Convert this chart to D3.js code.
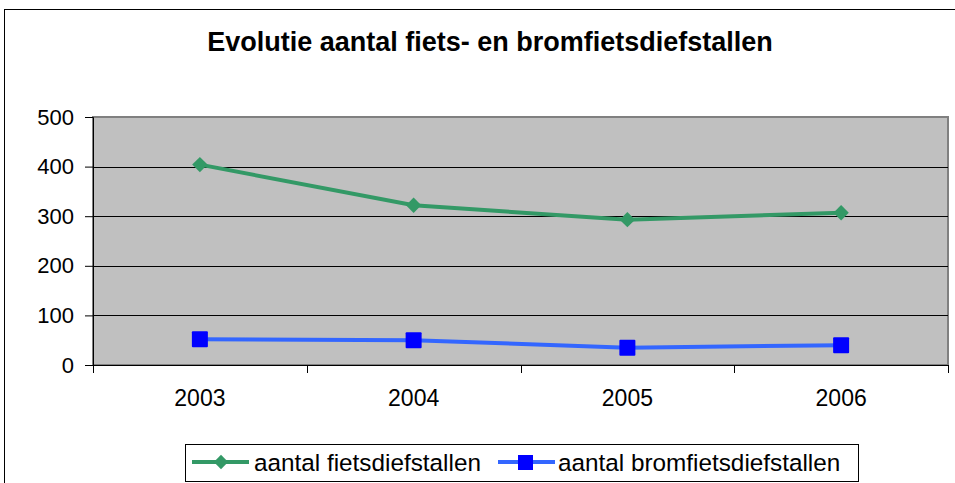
<!DOCTYPE html>
<html>
<head>
<meta charset="utf-8">
<script src="https://cdn.jsdelivr.net/npm/d3@7"></script>
<style>
  body { margin: 0; background: #fff; }
  text { font-family: "Liberation Sans", Arial, sans-serif; }
</style>
</head>
<body>
<svg width="955" height="483"></svg>
<script>
const years = ['2003', '2004', '2005', '2006'];
const fiets = [404, 322, 293, 307];
const bromfiets = [52, 50, 35, 40];
const yTicks = [0, 100, 200, 300, 400, 500];

const svg = d3.select('svg');

// outer chart frame (runs off the right/bottom edge)
svg.append('rect')
  .attr('x', 4.5).attr('y', 9.5)
  .attr('width', 1000).attr('height', 600)
  .attr('fill', '#fff').attr('stroke', '#000');

svg.append('text')
  .attr('x', 490).attr('y', 51)
  .attr('text-anchor', 'middle')
  .attr('font-size', '27px')
  .attr('font-weight', 'bold')
  .text('Evolutie aantal fiets- en bromfietsdiefstallen');

const plotL = 93, plotT = 117, plotR = 948, plotB = 365;

const x = d3.scaleBand().domain(years).range([plotL, plotR]);
const y = d3.scaleLinear().domain([0, 500]).range([plotB, plotT]);

svg.append('rect')
  .attr('x', plotL).attr('y', plotT)
  .attr('width', plotR - plotL).attr('height', plotB - plotT)
  .attr('fill', '#c0c0c0').attr('stroke', '#808080').attr('stroke-width', 2);

// gridlines
svg.append('g').selectAll('line')
  .data(yTicks.slice(1, -1))
  .enter().append('line')
  .attr('x1', plotL).attr('x2', plotR)
  .attr('y1', (d) => Math.round(y(d)) + 0.5)
  .attr('y2', (d) => Math.round(y(d)) + 0.5)
  .attr('stroke', '#000');

// y axis
svg.append('g')
  .attr('transform', `translate(${plotL},0)`)
  .call(d3.axisLeft(y).tickValues(yTicks).tickSize(8).tickPadding(11))
  .call((g) => {
    g.select('.domain').attr('stroke', '#000');
    g.selectAll('.tick line').attr('stroke', '#000');
    g.selectAll('.tick text')
      .attr('font-size', '22px')
      .attr('fill', '#000')
      .attr('font-family', '"Liberation Sans", Arial, sans-serif');
  });

// x axis with ticks between categories
svg.append('g')
  .attr('transform', `translate(0,${plotB})`)
  .call(d3.axisBottom(x).tickSize(0).tickPadding(25))
  .call((g) => {
    g.select('.domain').attr('stroke', '#000');
    g.selectAll('.tick text')
      .attr('font-size', '23px')
      .attr('fill', '#000')
      .attr('font-family', '"Liberation Sans", Arial, sans-serif');
  });

svg.append('g').selectAll('line')
  .data(years.concat(['end']))
  .enter().append('line')
  .attr('x1', (d, i) => Math.round(plotL + i * x.bandwidth()) + 0.5)
  .attr('x2', (d, i) => Math.round(plotL + i * x.bandwidth()) + 0.5)
  .attr('y1', plotB).attr('y2', plotB + 8)
  .attr('stroke', '#000');

const cx = (d, i) => x(years[i]) + x.bandwidth() / 2;
const line = d3.line().x(cx).y((d) => y(d));

// green series
svg.append('path')
  .datum(fiets)
  .attr('d', line)
  .attr('fill', 'none')
  .attr('stroke', '#339966')
  .attr('stroke-width', 4);

svg.append('g').selectAll('path')
  .data(fiets)
  .enter().append('path')
  .attr('transform', (d, i) => `translate(${cx(d, i)},${y(d)})`)
  .attr('d', d3.symbol(d3.symbolDiamond2, 150))
  .attr('fill', '#339966');

// blue series
svg.append('path')
  .datum(bromfiets)
  .attr('d', line)
  .attr('fill', 'none')
  .attr('stroke', '#3366ff')
  .attr('stroke-width', 4);

svg.append('g').selectAll('rect')
  .data(bromfiets)
  .enter().append('rect')
  .attr('x', (d, i) => cx(d, i) - 8)
  .attr('y', (d) => y(d) - 8)
  .attr('width', 16).attr('height', 16)
  .attr('rx', 1)
  .attr('fill', '#0000ff');

// legend
const legend = svg.append('g');
legend.append('rect')
  .attr('x', 185.5).attr('y', 444.5)
  .attr('width', 673).attr('height', 37)
  .attr('fill', '#fff').attr('stroke', '#000');

legend.append('line')
  .attr('x1', 192).attr('x2', 249).attr('y1', 462).attr('y2', 462)
  .attr('stroke', '#339966').attr('stroke-width', 4);
legend.append('path')
  .attr('transform', 'translate(221,462)')
  .attr('d', d3.symbol(d3.symbolDiamond2, 130))
  .attr('fill', '#339966');
legend.append('text')
  .attr('x', 254).attr('y', 471)
  .attr('font-size', '24.3px')
  .text('aantal fietsdiefstallen');

legend.append('line')
  .attr('x1', 498).attr('x2', 555).attr('y1', 462).attr('y2', 462)
  .attr('stroke', '#3366ff').attr('stroke-width', 4);
legend.append('rect')
  .attr('x', 518).attr('y', 455)
  .attr('width', 15).attr('height', 15)
  .attr('fill', '#0000ff');
legend.append('text')
  .attr('x', 558).attr('y', 471)
  .attr('font-size', '24.3px')
  .text('aantal bromfietsdiefstallen');
</script>
</body>
</html>
